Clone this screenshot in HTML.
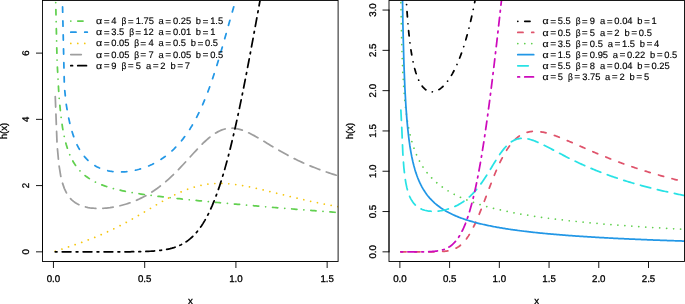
<!DOCTYPE html>
<html><head><meta charset="utf-8"><title>h(x)</title>
<style>html,body{margin:0;padding:0;background:#fff}svg{display:block}text{font-family:"Liberation Sans",sans-serif;fill:#000;text-rendering:geometricPrecision;stroke:#000;stroke-width:0.3px}.lg text{stroke-width:0.16px}.lg text.e{stroke-width:0.08px}</style></head><body>
<svg width="685" height="304" viewBox="0 0 685 304">
<rect width="685" height="304" fill="#fff"/>
<clipPath id="cL"><rect x="42.5" y="0.5" width="295.6" height="261.0"/></clipPath>
<g clip-path="url(#cL)" fill="none" stroke-width="1.742" stroke-linecap="round" stroke-linejoin="round">
<path d="M55.27 -16.61 L57.10 61.80 L58.92 95.31 L60.75 114.79 L62.57 127.83 L64.40 137.29 L66.22 144.53 L68.05 150.28 L69.87 154.98 L71.70 158.91 L73.52 162.24 L75.35 165.11 L77.17 167.61 L79.00 169.82 L80.82 171.77 L82.65 173.52 L84.47 175.10 L86.29 176.53 L88.12 177.83 L89.94 179.02 L91.77 180.11 L93.59 181.12 L95.42 182.05 L97.24 182.91 L99.07 183.72 L100.89 184.47 L102.72 185.18 L104.54 185.84 L106.37 186.46 L108.19 187.05 L110.02 187.60 L111.84 188.13 L113.67 188.63 L115.49 189.10 L117.31 189.55 L119.14 189.98 L120.96 190.40 L122.79 190.79 L124.61 191.17 L126.44 191.53 L128.26 191.88 L130.09 192.22 L131.91 192.55 L133.74 192.86 L135.56 193.17 L137.39 193.46 L139.21 193.75 L141.04 194.03 L142.86 194.30 L144.69 194.57 L146.51 194.82 L148.33 195.08 L150.16 195.32 L151.98 195.56 L153.81 195.80 L155.63 196.03 L157.46 196.26 L159.28 196.48 L161.11 196.70 L162.93 196.92 L164.76 197.13 L166.58 197.34 L168.41 197.55 L170.23 197.75 L172.06 197.95 L173.88 198.15 L175.70 198.35 L177.53 198.55 L179.35 198.74 L181.18 198.93 L183.00 199.12 L184.83 199.31 L186.65 199.50 L188.48 199.68 L190.30 199.87 L192.13 200.05 L193.95 200.23 L195.78 200.41 L197.60 200.59 L199.43 200.77 L201.25 200.94 L203.08 201.12 L204.90 201.30 L206.72 201.47 L208.55 201.64 L210.37 201.82 L212.20 201.99 L214.02 202.16 L215.85 202.33 L217.67 202.50 L219.50 202.67 L221.32 202.84 L223.15 203.01 L224.97 203.18 L226.80 203.34 L228.62 203.51 L230.45 203.67 L232.27 203.84 L234.10 204.00 L235.92 204.17 L237.74 204.33 L239.57 204.49 L241.39 204.66 L243.22 204.82 L245.04 204.98 L246.87 205.14 L248.69 205.30 L250.52 205.46 L252.34 205.62 L254.17 205.78 L255.99 205.94 L257.82 206.10 L259.64 206.25 L261.47 206.41 L263.29 206.57 L265.12 206.72 L266.94 206.88 L268.76 207.03 L270.59 207.19 L272.41 207.34 L274.24 207.50 L276.06 207.65 L277.89 207.80 L279.71 207.95 L281.54 208.10 L283.36 208.26 L285.19 208.41 L287.01 208.56 L288.84 208.70 L290.66 208.85 L292.49 209.00 L294.31 209.15 L296.14 209.30 L297.96 209.44 L299.78 209.59 L301.61 209.73 L303.43 209.88 L305.26 210.02 L307.08 210.17 L308.91 210.31 L310.73 210.45 L312.56 210.59 L314.38 210.74 L316.21 210.88 L318.03 211.02 L319.86 211.16 L321.68 211.30 L323.51 211.43 L325.33 211.57 L327.15 211.71 L328.98 211.85 L330.80 211.98 L332.63 212.12 L334.45 212.25 L336.28 212.39 L338.10 212.52 L339.93 212.66" stroke="#61D04F" stroke-dasharray="0.01 6.97 5.23 6.97"/>
<path d="M62.57 6.99 L64.40 87.15 L66.22 104.37 L68.05 115.24 L69.87 123.54 L71.70 130.44 L73.52 136.15 L75.35 140.94 L77.17 145.04 L79.00 148.56 L80.82 151.61 L82.65 154.27 L84.47 156.61 L86.29 158.67 L88.12 160.49 L89.94 162.10 L91.77 163.53 L93.59 164.80 L95.42 165.92 L97.24 166.92 L99.07 167.80 L100.89 168.58 L102.72 169.25 L104.54 169.84 L106.37 170.35 L108.19 170.78 L110.02 171.14 L111.84 171.43 L113.67 171.66 L115.49 171.83 L117.31 171.94 L119.14 171.99 L120.96 171.99 L122.79 171.94 L124.61 171.84 L126.44 171.68 L128.26 171.48 L130.09 171.24 L131.91 170.94 L133.74 170.60 L135.56 170.20 L137.39 169.77 L139.21 169.28 L141.04 168.74 L142.86 168.16 L144.69 167.52 L146.51 166.84 L148.33 166.10 L150.16 165.31 L151.98 164.46 L153.81 163.55 L155.63 162.59 L157.46 161.56 L159.28 160.47 L161.11 159.31 L162.93 158.08 L164.76 156.78 L166.58 155.41 L168.41 153.95 L170.23 152.41 L172.06 150.78 L173.88 149.06 L175.70 147.24 L177.53 145.31 L179.35 143.28 L181.18 141.13 L183.00 138.86 L184.83 136.46 L186.65 133.93 L188.48 131.25 L190.30 128.42 L192.13 125.43 L193.95 122.28 L195.78 118.94 L197.60 115.43 L199.43 111.71 L201.25 107.80 L203.08 103.68 L204.90 99.34 L206.72 94.78 L208.55 90.00 L210.37 84.99 L212.20 79.76 L214.02 74.31 L215.85 68.65 L217.67 62.80 L219.50 56.76 L221.32 50.57 L223.15 44.24 L224.97 37.82 L226.80 31.35 L228.62 24.85 L230.45 18.38 L232.27 11.99 L234.10 5.72 L235.92 -0.39 L237.74 -6.28 L239.57 -11.91 L241.39 -17.26 L243.22 -22.28 L245.04 -26.95 L246.87 -31.25 L248.69 -35.17 L250.52 -38.71 L252.34 -41.85 L254.17 -44.61 L255.99 -46.99 L257.82 -49.01 L259.64 -50.68 L261.47 -52.02 L263.29 -53.05 L265.12 -53.79 L266.94 -54.25 L268.76 -54.47 L270.59 -54.47 L272.41 -54.25 L274.24 -53.85 L276.06 -53.27 L277.89 -52.54 L279.71 -51.68 L281.54 -50.69 L283.36 -49.59 L285.19 -48.40 L287.01 -47.13 L288.84 -45.78 L290.66 -44.37 L292.49 -42.90 L294.31 -41.39 L296.14 -39.84 L297.96 -38.25 L299.78 -36.64 L301.61 -35.00 L303.43 -33.35 L305.26 -31.68 L307.08 -30.00 L308.91 -28.31 L310.73 -26.62 L312.56 -24.93 L314.38 -23.24 L316.21 -21.56 L318.03 -19.87 L319.86 -18.20 L321.68 -16.53 L323.51 -14.87 L325.33 -13.22 L327.15 -11.58 L328.98 -9.95 L330.80 -8.33 L332.63 -6.73 L334.45 -5.14 L336.28 -3.56 L338.10 -2.00 L339.93 -0.45" stroke="#2297E6" stroke-dasharray="5.23 8.71"/>
<path d="M55.27 251.24 L57.10 250.65 L58.92 250.06 L60.75 249.47 L62.57 248.88 L64.40 248.28 L66.22 247.68 L68.05 247.07 L69.87 246.46 L71.70 245.84 L73.52 245.22 L75.35 244.59 L77.17 243.96 L79.00 243.31 L80.82 242.66 L82.65 242.00 L84.47 241.32 L86.29 240.64 L88.12 239.95 L89.94 239.25 L91.77 238.53 L93.59 237.80 L95.42 237.06 L97.24 236.31 L99.07 235.54 L100.89 234.76 L102.72 233.97 L104.54 233.16 L106.37 232.33 L108.19 231.49 L110.02 230.64 L111.84 229.77 L113.67 228.89 L115.49 227.99 L117.31 227.07 L119.14 226.14 L120.96 225.20 L122.79 224.24 L124.61 223.27 L126.44 222.28 L128.26 221.28 L130.09 220.27 L131.91 219.25 L133.74 218.21 L135.56 217.16 L137.39 216.11 L139.21 215.05 L141.04 213.98 L142.86 212.90 L144.69 211.82 L146.51 210.74 L148.33 209.65 L150.16 208.57 L151.98 207.48 L153.81 206.40 L155.63 205.32 L157.46 204.26 L159.28 203.19 L161.11 202.14 L162.93 201.11 L164.76 200.08 L166.58 199.08 L168.41 198.09 L170.23 197.12 L172.06 196.17 L173.88 195.25 L175.70 194.35 L177.53 193.48 L179.35 192.64 L181.18 191.83 L183.00 191.06 L184.83 190.31 L186.65 189.60 L188.48 188.93 L190.30 188.29 L192.13 187.69 L193.95 187.13 L195.78 186.61 L197.60 186.13 L199.43 185.68 L201.25 185.28 L203.08 184.92 L204.90 184.60 L206.72 184.31 L208.55 184.07 L210.37 183.86 L212.20 183.70 L214.02 183.57 L215.85 183.47 L217.67 183.42 L219.50 183.39 L221.32 183.40 L223.15 183.45 L224.97 183.52 L226.80 183.62 L228.62 183.76 L230.45 183.92 L232.27 184.10 L234.10 184.31 L235.92 184.54 L237.74 184.80 L239.57 185.08 L241.39 185.37 L243.22 185.68 L245.04 186.01 L246.87 186.36 L248.69 186.72 L250.52 187.09 L252.34 187.47 L254.17 187.87 L255.99 188.27 L257.82 188.69 L259.64 189.11 L261.47 189.53 L263.29 189.97 L265.12 190.40 L266.94 190.85 L268.76 191.29 L270.59 191.74 L272.41 192.19 L274.24 192.64 L276.06 193.09 L277.89 193.54 L279.71 193.99 L281.54 194.44 L283.36 194.89 L285.19 195.34 L287.01 195.79 L288.84 196.23 L290.66 196.67 L292.49 197.11 L294.31 197.55 L296.14 197.98 L297.96 198.41 L299.78 198.83 L301.61 199.26 L303.43 199.67 L305.26 200.09 L307.08 200.49 L308.91 200.90 L310.73 201.30 L312.56 201.69 L314.38 202.09 L316.21 202.47 L318.03 202.85 L319.86 203.23 L321.68 203.60 L323.51 203.97 L325.33 204.34 L327.15 204.70 L328.98 205.05 L330.80 205.40 L332.63 205.74 L334.45 206.09 L336.28 206.42 L338.10 206.75 L339.93 207.08" stroke="#F5C710" stroke-dasharray="0.01 6.97"/>
<path d="M55.27 96.63 L57.10 145.01 L58.92 164.87 L60.75 176.09 L62.57 183.41 L64.40 188.60 L66.22 192.47 L68.05 195.47 L69.87 197.86 L71.70 199.79 L73.52 201.38 L75.35 202.70 L77.17 203.81 L79.00 204.73 L80.82 205.51 L82.65 206.16 L84.47 206.71 L86.29 207.16 L88.12 207.53 L89.94 207.82 L91.77 208.05 L93.59 208.22 L95.42 208.33 L97.24 208.40 L99.07 208.41 L100.89 208.38 L102.72 208.31 L104.54 208.20 L106.37 208.04 L108.19 207.85 L110.02 207.63 L111.84 207.36 L113.67 207.06 L115.49 206.73 L117.31 206.36 L119.14 205.95 L120.96 205.51 L122.79 205.03 L124.61 204.51 L126.44 203.96 L128.26 203.37 L130.09 202.75 L131.91 202.08 L133.74 201.38 L135.56 200.63 L137.39 199.84 L139.21 199.02 L141.04 198.14 L142.86 197.23 L144.69 196.27 L146.51 195.26 L148.33 194.20 L150.16 193.10 L151.98 191.95 L153.81 190.75 L155.63 189.49 L157.46 188.19 L159.28 186.83 L161.11 185.43 L162.93 183.97 L164.76 182.45 L166.58 180.89 L168.41 179.28 L170.23 177.61 L172.06 175.90 L173.88 174.14 L175.70 172.34 L177.53 170.49 L179.35 168.61 L181.18 166.69 L183.00 164.75 L184.83 162.77 L186.65 160.78 L188.48 158.78 L190.30 156.77 L192.13 154.76 L193.95 152.77 L195.78 150.79 L197.60 148.84 L199.43 146.92 L201.25 145.06 L203.08 143.24 L204.90 141.50 L206.72 139.83 L208.55 138.24 L210.37 136.75 L212.20 135.36 L214.02 134.08 L215.85 132.91 L217.67 131.87 L219.50 130.95 L221.32 130.17 L223.15 129.51 L224.97 128.99 L226.80 128.60 L228.62 128.34 L230.45 128.22 L232.27 128.21 L234.10 128.33 L235.92 128.56 L237.74 128.90 L239.57 129.34 L241.39 129.88 L243.22 130.50 L245.04 131.20 L246.87 131.98 L248.69 132.81 L250.52 133.71 L252.34 134.65 L254.17 135.63 L255.99 136.65 L257.82 137.70 L259.64 138.77 L261.47 139.85 L263.29 140.95 L265.12 142.06 L266.94 143.17 L268.76 144.28 L270.59 145.39 L272.41 146.49 L274.24 147.58 L276.06 148.66 L277.89 149.73 L279.71 150.79 L281.54 151.83 L283.36 152.86 L285.19 153.86 L287.01 154.85 L288.84 155.83 L290.66 156.78 L292.49 157.72 L294.31 158.64 L296.14 159.53 L297.96 160.41 L299.78 161.28 L301.61 162.12 L303.43 162.95 L305.26 163.76 L307.08 164.55 L308.91 165.33 L310.73 166.09 L312.56 166.83 L314.38 167.56 L316.21 168.27 L318.03 168.97 L319.86 169.65 L321.68 170.32 L323.51 170.98 L325.33 171.62 L327.15 172.25 L328.98 172.87 L330.80 173.48 L332.63 174.08 L334.45 174.66 L336.28 175.23 L338.10 175.80 L339.93 176.35" stroke="#9E9E9E" stroke-dasharray="10.45 6.97"/>
<path d="M55.27 251.83 L57.10 251.83 L58.92 251.83 L60.75 251.83 L62.57 251.83 L64.40 251.83 L66.22 251.83 L68.05 251.83 L69.87 251.83 L71.70 251.83 L73.52 251.83 L75.35 251.83 L77.17 251.83 L79.00 251.83 L80.82 251.83 L82.65 251.83 L84.47 251.83 L86.29 251.83 L88.12 251.83 L89.94 251.83 L91.77 251.83 L93.59 251.83 L95.42 251.83 L97.24 251.83 L99.07 251.83 L100.89 251.83 L102.72 251.83 L104.54 251.83 L106.37 251.83 L108.19 251.83 L110.02 251.83 L111.84 251.82 L113.67 251.82 L115.49 251.82 L117.31 251.82 L119.14 251.81 L120.96 251.81 L122.79 251.80 L124.61 251.79 L126.44 251.78 L128.26 251.77 L130.09 251.76 L131.91 251.74 L133.74 251.72 L135.56 251.70 L137.39 251.67 L139.21 251.63 L141.04 251.59 L142.86 251.54 L144.69 251.49 L146.51 251.42 L148.33 251.34 L150.16 251.25 L151.98 251.14 L153.81 251.02 L155.63 250.87 L157.46 250.71 L159.28 250.51 L161.11 250.29 L162.93 250.04 L164.76 249.75 L166.58 249.43 L168.41 249.05 L170.23 248.63 L172.06 248.15 L173.88 247.61 L175.70 246.99 L177.53 246.31 L179.35 245.53 L181.18 244.67 L183.00 243.70 L184.83 242.63 L186.65 241.43 L188.48 240.10 L190.30 238.63 L192.13 237.01 L193.95 235.22 L195.78 233.26 L197.60 231.10 L199.43 228.74 L201.25 226.17 L203.08 223.37 L204.90 220.34 L206.72 217.05 L208.55 213.50 L210.37 209.68 L212.20 205.57 L214.02 201.18 L215.85 196.48 L217.67 191.49 L219.50 186.18 L221.32 180.56 L223.15 174.62 L224.97 168.37 L226.80 161.81 L228.62 154.93 L230.45 147.76 L232.27 140.28 L234.10 132.52 L235.92 124.49 L237.74 116.19 L239.57 107.64 L241.39 98.86 L243.22 89.86 L245.04 80.67 L246.87 71.31 L248.69 61.78 L250.52 52.12 L252.34 42.35 L254.17 32.48 L255.99 22.55 L257.82 12.57 L259.64 2.57 L261.47 -7.44 L263.29 -17.43 L265.12 -27.38 L266.94 -37.28 L268.76 -47.09 L270.59 -56.81 L272.41 -66.42 L274.24 -75.90 L276.06 -85.23 L277.89 -94.41 L279.71 -103.42 L281.54 -112.25 L283.36 -120.88 L285.19 -129.31 L287.01 -137.54 L288.84 -145.55 L290.66 -153.33 L292.49 -160.89 L294.31 -168.22 L296.14 -175.31 L297.96 -182.17 L299.78 -188.79 L301.61 -195.16 L303.43 -201.30 L305.26 -207.21 L307.08 -212.87 L308.91 -218.30 L310.73 -223.49 L312.56 -228.46 L314.38 -233.20 L316.21 -237.71 L318.03 -242.01 L319.86 -246.08 L321.68 -249.95 L323.51 -253.61 L325.33 -257.07 L327.15 -260.32 L328.98 -263.39 L330.80 -266.27 L332.63 -268.96 L334.45 -271.48 L336.28 -273.83 L338.10 -276.01 L339.93 -278.02" stroke="#000000" stroke-dasharray="1.74 5.23 8.71 5.23"/>
</g>
<g stroke="#000" stroke-width="0.9" fill="none" stroke-linecap="round">
<rect x="42.5" y="0.5" width="295.6" height="261.0"/>
<path d="M53.45 261.5 H327.15"/>
<path d="M53.45 261.5 v6.1"/>
<path d="M144.69 261.5 v6.1"/>
<path d="M235.92 261.5 v6.1"/>
<path d="M327.15 261.5 v6.1"/>
<path d="M42.5 251.83 V53.12"/>
<path d="M42.5 251.83 h-6.1"/>
<path d="M42.5 185.59 h-6.1"/>
<path d="M42.5 119.36 h-6.1"/>
<path d="M42.5 53.12 h-6.1"/>
</g>
<g font-size="9.7" text-anchor="middle">
<text x="53.45" y="282.0">0.0</text>
<text x="144.69" y="282.0">0.5</text>
<text x="235.92" y="282.0">1.0</text>
<text x="327.15" y="282.0">1.5</text>
<text transform="translate(29.00 251.83) rotate(-90)">0</text>
<text transform="translate(29.00 185.59) rotate(-90)">2</text>
<text transform="translate(29.00 119.36) rotate(-90)">4</text>
<text transform="translate(29.00 53.12) rotate(-90)">6</text>
<text x="190.30" y="303.6">x</text>
<text transform="translate(6.60 131.00) rotate(-90)">h(x)</text>
</g>
<clipPath id="cR"><rect x="389.0" y="0.5" width="295.5" height="261.0"/></clipPath>
<g clip-path="url(#cR)" fill="none" stroke-width="1.742" stroke-linecap="round" stroke-linejoin="round">
<path d="M401.87 -187.07 L402.86 -110.14 L403.86 -61.80 L404.85 -30.32 L405.85 -7.80 L406.84 9.15 L407.84 22.41 L408.83 33.08 L409.82 41.83 L410.82 49.14 L411.81 55.31 L412.81 60.58 L413.80 65.11 L414.80 69.04 L415.79 72.45 L416.79 75.42 L417.78 78.03 L418.78 80.30 L419.77 82.29 L420.76 84.03 L421.76 85.54 L422.75 86.85 L423.75 87.97 L424.74 88.93 L425.74 89.73 L426.73 90.39 L427.73 90.92 L428.72 91.33 L429.71 91.61 L430.71 91.79 L431.70 91.87 L432.70 91.84 L433.69 91.72 L434.69 91.51 L435.68 91.21 L436.68 90.82 L437.67 90.35 L438.67 89.79 L439.66 89.15 L440.65 88.43 L441.65 87.63 L442.64 86.75 L443.64 85.79 L444.63 84.75 L445.63 83.62 L446.62 82.41 L447.62 81.12 L448.61 79.75 L449.61 78.28 L450.60 76.73 L451.59 75.09 L452.59 73.36 L453.58 71.53 L454.58 69.60 L455.57 67.57 L456.57 65.44 L457.56 63.19 L458.56 60.84 L459.55 58.36 L460.54 55.77 L461.54 53.05 L462.53 50.19 L463.53 47.20 L464.52 44.07 L465.52 40.79 L466.51 37.35 L467.51 33.74 L468.50 29.97 L469.50 26.02 L470.49 21.89 L471.48 17.56 L472.48 13.03 L473.47 8.30 L474.47 3.35 L475.46 -1.83 L476.46 -7.23 L477.45 -12.87 L478.45 -18.75 L479.44 -24.87 L480.43 -31.24 L481.43 -37.86 L482.42 -44.72 L483.42 -51.82 L484.41 -59.16 L485.41 -66.73 L486.40 -74.52 L487.40 -82.50 L488.39 -90.66 L489.38 -98.98 L490.38 -107.44 L491.37 -115.99 L492.37 -124.61 L493.36 -133.27 L494.36 -141.93 L495.35 -150.54 L496.35 -159.07 L497.34 -167.48 L498.34 -175.72 L499.33 -183.77 L500.32 -191.58 L501.32 -199.12 L502.31 -206.35 L503.31 -213.25 L504.30 -219.80 L505.30 -225.98 L506.29 -231.76 L507.29 -237.14 L508.28 -242.12 L509.27 -246.67 L510.27 -250.82 L511.26 -254.55 L512.26 -257.87 L513.25 -260.80 L514.25 -263.34 L515.24 -265.51 L516.24 -267.32 L517.23 -268.79 L518.23 -269.92 L519.22 -270.75 L520.21 -271.28 L521.21 -271.54 L522.20 -271.53 L523.20 -271.28 L524.19 -270.81 L525.19 -270.13 L526.18 -269.25 L527.18 -268.19 L528.17 -266.96 L529.16 -265.59 L530.16 -264.08 L531.15 -262.44 L532.15 -260.68 L533.14 -258.82 L534.14 -256.87 L535.13 -254.83 L536.13 -252.71 L537.12 -250.53 L538.12 -248.29 L539.11 -245.99 L540.10 -243.65 L541.10 -241.26 L542.09 -238.84 L543.09 -236.39 L544.08 -233.92 L545.08 -231.42 L546.07 -228.91 L547.07 -226.38 L548.06 -223.84 L549.06 -221.30 L550.05 -218.75 L551.04 -216.20 L552.04 -213.65 L553.03 -211.10 L554.03 -208.55 L555.02 -206.02 L556.02 -203.49 L557.01 -200.97 L558.01 -198.46 L559.00 -195.96 L559.99 -193.47 L560.99 -191.00 L561.98 -188.54 L562.98 -186.10 L563.97 -183.67 L564.97 -181.26 L565.96 -178.86 L566.96 -176.49 L567.95 -174.13 L568.94 -171.79 L569.94 -169.46 L570.93 -167.16 L571.93 -164.87 L572.92 -162.60 L573.92 -160.35 L574.91 -158.13 L575.91 -155.92 L576.90 -153.72 L577.90 -151.55 L578.89 -149.40 L579.88 -147.26 L580.88 -145.15 L581.87 -143.05 L582.87 -140.98 L583.86 -138.92 L584.86 -136.88 L585.85 -134.86 L586.85 -132.86 L587.84 -130.87 L588.84 -128.91 L589.83 -126.96 L590.82 -125.03 L591.82 -123.12 L592.81 -121.22 L593.81 -119.35 L594.80 -117.49 L595.80 -115.65 L596.79 -113.82 L597.79 -112.01 L598.78 -110.22 L599.77 -108.45 L600.77 -106.69 L601.76 -104.95 L602.76 -103.22 L603.75 -101.51 L604.75 -99.81 L605.74 -98.13 L606.74 -96.47 L607.73 -94.82 L608.73 -93.19 L609.72 -91.57 L610.71 -89.96 L611.71 -88.37 L612.70 -86.79 L613.70 -85.23 L614.69 -83.68 L615.69 -82.15 L616.68 -80.63 L617.68 -79.12 L618.67 -77.62 L619.66 -76.14 L620.66 -74.67 L621.65 -73.22 L622.65 -71.77 L623.64 -70.34 L624.64 -68.93 L625.63 -67.52 L626.63 -66.13 L627.62 -64.74 L628.62 -63.37 L629.61 -62.01 L630.60 -60.67 L631.60 -59.33 L632.59 -58.01 L633.59 -56.69 L634.58 -55.39 L635.58 -54.10 L636.57 -52.82 L637.57 -51.55 L638.56 -50.29 L639.55 -49.04 L640.55 -47.80 L641.54 -46.57 L642.54 -45.35 L643.53 -44.14 L644.53 -42.94 L645.52 -41.74 L646.52 -40.56 L647.51 -39.39 L648.50 -38.23 L649.50 -37.08 L650.49 -35.93 L651.49 -34.80 L652.48 -33.67 L653.48 -32.55 L654.47 -31.44 L655.47 -30.34 L656.46 -29.25 L657.46 -28.17 L658.45 -27.09 L659.44 -26.02 L660.44 -24.97 L661.43 -23.91 L662.43 -22.87 L663.42 -21.84 L664.42 -20.81 L665.41 -19.79 L666.41 -18.78 L667.40 -17.77 L668.39 -16.77 L669.39 -15.78 L670.38 -14.80 L671.38 -13.82 L672.37 -12.86 L673.37 -11.89 L674.36 -10.94 L675.36 -9.99 L676.35 -9.05 L677.35 -8.12 L678.34 -7.19 L679.33 -6.27 L680.33 -5.35 L681.32 -4.44 L682.32 -3.54 L683.31 -2.65 L684.31 -1.76 L685.30 -0.87 L686.30 0.00" stroke="#000000" stroke-dasharray="0.01 6.97 5.23 6.97"/>
<path d="M400.87 251.83 L401.87 251.83 L402.86 251.83 L403.86 251.83 L404.85 251.83 L405.85 251.83 L406.84 251.83 L407.84 251.83 L408.83 251.83 L409.82 251.83 L410.82 251.83 L411.81 251.83 L412.81 251.83 L413.80 251.83 L414.80 251.83 L415.79 251.83 L416.79 251.83 L417.78 251.83 L418.78 251.83 L419.77 251.83 L420.76 251.83 L421.76 251.83 L422.75 251.83 L423.75 251.83 L424.74 251.83 L425.74 251.83 L426.73 251.82 L427.73 251.82 L428.72 251.82 L429.71 251.81 L430.71 251.81 L431.70 251.80 L432.70 251.79 L433.69 251.78 L434.69 251.77 L435.68 251.75 L436.68 251.73 L437.67 251.71 L438.67 251.67 L439.66 251.64 L440.65 251.59 L441.65 251.53 L442.64 251.46 L443.64 251.38 L444.63 251.29 L445.63 251.17 L446.62 251.04 L447.62 250.88 L448.61 250.70 L449.61 250.49 L450.60 250.25 L451.59 249.97 L452.59 249.66 L453.58 249.30 L454.58 248.89 L455.57 248.43 L456.57 247.92 L457.56 247.34 L458.56 246.70 L459.55 245.99 L460.54 245.21 L461.54 244.35 L462.53 243.41 L463.53 242.38 L464.52 241.27 L465.52 240.06 L466.51 238.77 L467.51 237.38 L468.50 235.89 L469.50 234.31 L470.49 232.63 L471.48 230.86 L472.48 229.00 L473.47 227.04 L474.47 225.00 L475.46 222.88 L476.46 220.68 L477.45 218.40 L478.45 216.06 L479.44 213.65 L480.43 211.19 L481.43 208.69 L482.42 206.14 L483.42 203.56 L484.41 200.95 L485.41 198.33 L486.40 195.70 L487.40 193.06 L488.39 190.44 L489.38 187.82 L490.38 185.23 L491.37 182.66 L492.37 180.12 L493.36 177.63 L494.36 175.18 L495.35 172.78 L496.35 170.43 L497.34 168.15 L498.34 165.92 L499.33 163.77 L500.32 161.68 L501.32 159.66 L502.31 157.72 L503.31 155.85 L504.30 154.05 L505.30 152.34 L506.29 150.70 L507.29 149.14 L508.28 147.65 L509.27 146.24 L510.27 144.91 L511.26 143.65 L512.26 142.46 L513.25 141.35 L514.25 140.30 L515.24 139.33 L516.24 138.42 L517.23 137.58 L518.23 136.80 L519.22 136.08 L520.21 135.42 L521.21 134.82 L522.20 134.27 L523.20 133.78 L524.19 133.34 L525.19 132.95 L526.18 132.60 L527.18 132.30 L528.17 132.05 L529.16 131.83 L530.16 131.66 L531.15 131.52 L532.15 131.41 L533.14 131.35 L534.14 131.31 L535.13 131.31 L536.13 131.33 L537.12 131.38 L538.12 131.46 L539.11 131.57 L540.10 131.69 L541.10 131.84 L542.09 132.02 L543.09 132.21 L544.08 132.42 L545.08 132.64 L546.07 132.89 L547.07 133.15 L548.06 133.42 L549.06 133.71 L550.05 134.01 L551.04 134.32 L552.04 134.65 L553.03 134.98 L554.03 135.32 L555.02 135.68 L556.02 136.04 L557.01 136.41 L558.01 136.79 L559.00 137.17 L559.99 137.56 L560.99 137.96 L561.98 138.36 L562.98 138.76 L563.97 139.17 L564.97 139.59 L565.96 140.00 L566.96 140.43 L567.95 140.85 L568.94 141.27 L569.94 141.70 L570.93 142.13 L571.93 142.57 L572.92 143.00 L573.92 143.43 L574.91 143.87 L575.91 144.30 L576.90 144.74 L577.90 145.18 L578.89 145.61 L579.88 146.05 L580.88 146.49 L581.87 146.92 L582.87 147.36 L583.86 147.80 L584.86 148.23 L585.85 148.66 L586.85 149.10 L587.84 149.53 L588.84 149.96 L589.83 150.39 L590.82 150.81 L591.82 151.24 L592.81 151.66 L593.81 152.09 L594.80 152.51 L595.80 152.93 L596.79 153.35 L597.79 153.76 L598.78 154.17 L599.77 154.59 L600.77 155.00 L601.76 155.40 L602.76 155.81 L603.75 156.21 L604.75 156.62 L605.74 157.01 L606.74 157.41 L607.73 157.81 L608.73 158.20 L609.72 158.59 L610.71 158.98 L611.71 159.37 L612.70 159.75 L613.70 160.13 L614.69 160.51 L615.69 160.89 L616.68 161.26 L617.68 161.63 L618.67 162.00 L619.66 162.37 L620.66 162.74 L621.65 163.10 L622.65 163.46 L623.64 163.82 L624.64 164.18 L625.63 164.53 L626.63 164.88 L627.62 165.23 L628.62 165.58 L629.61 165.92 L630.60 166.27 L631.60 166.61 L632.59 166.94 L633.59 167.28 L634.58 167.61 L635.58 167.95 L636.57 168.28 L637.57 168.60 L638.56 168.93 L639.55 169.25 L640.55 169.57 L641.54 169.89 L642.54 170.21 L643.53 170.52 L644.53 170.83 L645.52 171.14 L646.52 171.45 L647.51 171.76 L648.50 172.06 L649.50 172.36 L650.49 172.66 L651.49 172.96 L652.48 173.25 L653.48 173.55 L654.47 173.84 L655.47 174.13 L656.46 174.42 L657.46 174.70 L658.45 174.99 L659.44 175.27 L660.44 175.55 L661.43 175.83 L662.43 176.11 L663.42 176.38 L664.42 176.65 L665.41 176.92 L666.41 177.19 L667.40 177.46 L668.39 177.73 L669.39 177.99 L670.38 178.25 L671.38 178.51 L672.37 178.77 L673.37 179.03 L674.36 179.29 L675.36 179.54 L676.35 179.79 L677.35 180.04 L678.34 180.29 L679.33 180.54 L680.33 180.78 L681.32 181.03 L682.32 181.27 L683.31 181.51 L684.31 181.75 L685.30 181.99 L686.30 182.23" stroke="#DF536B" stroke-dasharray="5.23 8.71"/>
<path d="M400.87 2.72 L401.87 49.28 L402.86 73.40 L403.86 89.26 L404.85 100.90 L405.85 109.99 L406.84 117.41 L407.84 123.63 L408.83 128.96 L409.82 133.62 L410.82 137.73 L411.81 141.41 L412.81 144.73 L413.80 147.75 L414.80 150.52 L415.79 153.07 L416.79 155.42 L417.78 157.61 L418.78 159.66 L419.77 161.57 L420.76 163.37 L421.76 165.07 L422.75 166.67 L423.75 168.18 L424.74 169.62 L425.74 170.99 L426.73 172.29 L427.73 173.54 L428.72 174.73 L429.71 175.86 L430.71 176.96 L431.70 178.00 L432.70 179.01 L433.69 179.98 L434.69 180.91 L435.68 181.81 L436.68 182.68 L437.67 183.52 L438.67 184.33 L439.66 185.11 L440.65 185.87 L441.65 186.61 L442.64 187.32 L443.64 188.01 L444.63 188.69 L445.63 189.34 L446.62 189.98 L447.62 190.59 L448.61 191.20 L449.61 191.78 L450.60 192.35 L451.59 192.91 L452.59 193.45 L453.58 193.98 L454.58 194.50 L455.57 195.00 L456.57 195.49 L457.56 195.98 L458.56 196.45 L459.55 196.91 L460.54 197.36 L461.54 197.80 L462.53 198.23 L463.53 198.65 L464.52 199.06 L465.52 199.47 L466.51 199.87 L467.51 200.26 L468.50 200.64 L469.50 201.01 L470.49 201.38 L471.48 201.74 L472.48 202.10 L473.47 202.44 L474.47 202.79 L475.46 203.12 L476.46 203.45 L477.45 203.77 L478.45 204.09 L479.44 204.41 L480.43 204.71 L481.43 205.02 L482.42 205.31 L483.42 205.61 L484.41 205.89 L485.41 206.18 L486.40 206.46 L487.40 206.73 L488.39 207.00 L489.38 207.27 L490.38 207.53 L491.37 207.79 L492.37 208.05 L493.36 208.30 L494.36 208.55 L495.35 208.79 L496.35 209.03 L497.34 209.27 L498.34 209.50 L499.33 209.73 L500.32 209.96 L501.32 210.19 L502.31 210.41 L503.31 210.63 L504.30 210.84 L505.30 211.05 L506.29 211.26 L507.29 211.47 L508.28 211.68 L509.27 211.88 L510.27 212.08 L511.26 212.28 L512.26 212.47 L513.25 212.66 L514.25 212.85 L515.24 213.04 L516.24 213.23 L517.23 213.41 L518.23 213.59 L519.22 213.77 L520.21 213.95 L521.21 214.13 L522.20 214.30 L523.20 214.47 L524.19 214.64 L525.19 214.81 L526.18 214.97 L527.18 215.14 L528.17 215.30 L529.16 215.46 L530.16 215.62 L531.15 215.77 L532.15 215.93 L533.14 216.08 L534.14 216.24 L535.13 216.39 L536.13 216.54 L537.12 216.68 L538.12 216.83 L539.11 216.97 L540.10 217.12 L541.10 217.26 L542.09 217.40 L543.09 217.54 L544.08 217.67 L545.08 217.81 L546.07 217.95 L547.07 218.08 L548.06 218.21 L549.06 218.34 L550.05 218.47 L551.04 218.60 L552.04 218.73 L553.03 218.85 L554.03 218.98 L555.02 219.10 L556.02 219.23 L557.01 219.35 L558.01 219.47 L559.00 219.59 L559.99 219.71 L560.99 219.82 L561.98 219.94 L562.98 220.06 L563.97 220.17 L564.97 220.28 L565.96 220.40 L566.96 220.51 L567.95 220.62 L568.94 220.73 L569.94 220.84 L570.93 220.94 L571.93 221.05 L572.92 221.16 L573.92 221.26 L574.91 221.37 L575.91 221.47 L576.90 221.57 L577.90 221.67 L578.89 221.77 L579.88 221.87 L580.88 221.97 L581.87 222.07 L582.87 222.17 L583.86 222.27 L584.86 222.36 L585.85 222.46 L586.85 222.55 L587.84 222.65 L588.84 222.74 L589.83 222.83 L590.82 222.93 L591.82 223.02 L592.81 223.11 L593.81 223.20 L594.80 223.29 L595.80 223.38 L596.79 223.46 L597.79 223.55 L598.78 223.64 L599.77 223.72 L600.77 223.81 L601.76 223.89 L602.76 223.98 L603.75 224.06 L604.75 224.15 L605.74 224.23 L606.74 224.31 L607.73 224.39 L608.73 224.47 L609.72 224.55 L610.71 224.63 L611.71 224.71 L612.70 224.79 L613.70 224.87 L614.69 224.94 L615.69 225.02 L616.68 225.10 L617.68 225.17 L618.67 225.25 L619.66 225.32 L620.66 225.40 L621.65 225.47 L622.65 225.55 L623.64 225.62 L624.64 225.69 L625.63 225.76 L626.63 225.84 L627.62 225.91 L628.62 225.98 L629.61 226.05 L630.60 226.12 L631.60 226.19 L632.59 226.26 L633.59 226.32 L634.58 226.39 L635.58 226.46 L636.57 226.53 L637.57 226.59 L638.56 226.66 L639.55 226.73 L640.55 226.79 L641.54 226.86 L642.54 226.92 L643.53 226.99 L644.53 227.05 L645.52 227.11 L646.52 227.18 L647.51 227.24 L648.50 227.30 L649.50 227.36 L650.49 227.43 L651.49 227.49 L652.48 227.55 L653.48 227.61 L654.47 227.67 L655.47 227.73 L656.46 227.79 L657.46 227.85 L658.45 227.91 L659.44 227.97 L660.44 228.02 L661.43 228.08 L662.43 228.14 L663.42 228.20 L664.42 228.25 L665.41 228.31 L666.41 228.37 L667.40 228.42 L668.39 228.48 L669.39 228.53 L670.38 228.59 L671.38 228.64 L672.37 228.70 L673.37 228.75 L674.36 228.81 L675.36 228.86 L676.35 228.91 L677.35 228.97 L678.34 229.02 L679.33 229.07 L680.33 229.12 L681.32 229.18 L682.32 229.23 L683.31 229.28 L684.31 229.33 L685.30 229.38 L686.30 229.43" stroke="#61D04F" stroke-dasharray="0.01 6.97"/>
<path d="M400.87 -225.24 L401.87 -47.06 L402.86 23.01 L403.86 61.96 L404.85 87.28 L405.85 105.29 L406.84 118.88 L407.84 129.58 L408.83 138.27 L409.82 145.49 L410.82 151.61 L411.81 156.88 L412.81 161.48 L413.80 165.53 L414.80 169.14 L415.79 172.38 L416.79 175.30 L417.78 177.96 L418.78 180.40 L419.77 182.63 L420.76 184.69 L421.76 186.60 L422.75 188.38 L423.75 190.04 L424.74 191.59 L425.74 193.05 L426.73 194.42 L427.73 195.71 L428.72 196.93 L429.71 198.09 L430.71 199.18 L431.70 200.22 L432.70 201.22 L433.69 202.16 L434.69 203.07 L435.68 203.93 L436.68 204.76 L437.67 205.55 L438.67 206.31 L439.66 207.04 L440.65 207.75 L441.65 208.42 L442.64 209.08 L443.64 209.70 L444.63 210.31 L445.63 210.90 L446.62 211.47 L447.62 212.01 L448.61 212.55 L449.61 213.06 L450.60 213.56 L451.59 214.04 L452.59 214.51 L453.58 214.97 L454.58 215.41 L455.57 215.84 L456.57 216.26 L457.56 216.67 L458.56 217.07 L459.55 217.45 L460.54 217.83 L461.54 218.20 L462.53 218.55 L463.53 218.90 L464.52 219.25 L465.52 219.58 L466.51 219.90 L467.51 220.22 L468.50 220.53 L469.50 220.84 L470.49 221.13 L471.48 221.42 L472.48 221.71 L473.47 221.99 L474.47 222.26 L475.46 222.53 L476.46 222.79 L477.45 223.05 L478.45 223.30 L479.44 223.54 L480.43 223.79 L481.43 224.02 L482.42 224.26 L483.42 224.49 L484.41 224.71 L485.41 224.93 L486.40 225.15 L487.40 225.36 L488.39 225.57 L489.38 225.77 L490.38 225.97 L491.37 226.17 L492.37 226.37 L493.36 226.56 L494.36 226.75 L495.35 226.93 L496.35 227.11 L497.34 227.29 L498.34 227.47 L499.33 227.64 L500.32 227.81 L501.32 227.98 L502.31 228.15 L503.31 228.31 L504.30 228.47 L505.30 228.63 L506.29 228.79 L507.29 228.94 L508.28 229.09 L509.27 229.24 L510.27 229.39 L511.26 229.54 L512.26 229.68 L513.25 229.82 L514.25 229.96 L515.24 230.10 L516.24 230.23 L517.23 230.37 L518.23 230.50 L519.22 230.63 L520.21 230.76 L521.21 230.88 L522.20 231.01 L523.20 231.13 L524.19 231.25 L525.19 231.38 L526.18 231.49 L527.18 231.61 L528.17 231.73 L529.16 231.84 L530.16 231.96 L531.15 232.07 L532.15 232.18 L533.14 232.29 L534.14 232.40 L535.13 232.50 L536.13 232.61 L537.12 232.71 L538.12 232.81 L539.11 232.92 L540.10 233.02 L541.10 233.12 L542.09 233.22 L543.09 233.31 L544.08 233.41 L545.08 233.50 L546.07 233.60 L547.07 233.69 L548.06 233.78 L549.06 233.87 L550.05 233.96 L551.04 234.05 L552.04 234.14 L553.03 234.23 L554.03 234.32 L555.02 234.40 L556.02 234.49 L557.01 234.57 L558.01 234.65 L559.00 234.73 L559.99 234.82 L560.99 234.90 L561.98 234.98 L562.98 235.05 L563.97 235.13 L564.97 235.21 L565.96 235.29 L566.96 235.36 L567.95 235.44 L568.94 235.51 L569.94 235.59 L570.93 235.66 L571.93 235.73 L572.92 235.80 L573.92 235.87 L574.91 235.94 L575.91 236.01 L576.90 236.08 L577.90 236.15 L578.89 236.22 L579.88 236.29 L580.88 236.35 L581.87 236.42 L582.87 236.48 L583.86 236.55 L584.86 236.61 L585.85 236.68 L586.85 236.74 L587.84 236.80 L588.84 236.86 L589.83 236.93 L590.82 236.99 L591.82 237.05 L592.81 237.11 L593.81 237.17 L594.80 237.23 L595.80 237.28 L596.79 237.34 L597.79 237.40 L598.78 237.46 L599.77 237.51 L600.77 237.57 L601.76 237.63 L602.76 237.68 L603.75 237.73 L604.75 237.79 L605.74 237.84 L606.74 237.90 L607.73 237.95 L608.73 238.00 L609.72 238.05 L610.71 238.11 L611.71 238.16 L612.70 238.21 L613.70 238.26 L614.69 238.31 L615.69 238.36 L616.68 238.41 L617.68 238.46 L618.67 238.51 L619.66 238.55 L620.66 238.60 L621.65 238.65 L622.65 238.70 L623.64 238.74 L624.64 238.79 L625.63 238.84 L626.63 238.88 L627.62 238.93 L628.62 238.97 L629.61 239.02 L630.60 239.06 L631.60 239.11 L632.59 239.15 L633.59 239.19 L634.58 239.24 L635.58 239.28 L636.57 239.32 L637.57 239.37 L638.56 239.41 L639.55 239.45 L640.55 239.49 L641.54 239.53 L642.54 239.57 L643.53 239.61 L644.53 239.65 L645.52 239.69 L646.52 239.73 L647.51 239.77 L648.50 239.81 L649.50 239.85 L650.49 239.89 L651.49 239.93 L652.48 239.97 L653.48 240.01 L654.47 240.04 L655.47 240.08 L656.46 240.12 L657.46 240.16 L658.45 240.19 L659.44 240.23 L660.44 240.27 L661.43 240.30 L662.43 240.34 L663.42 240.37 L664.42 240.41 L665.41 240.44 L666.41 240.48 L667.40 240.51 L668.39 240.55 L669.39 240.58 L670.38 240.62 L671.38 240.65 L672.37 240.68 L673.37 240.72 L674.36 240.75 L675.36 240.78 L676.35 240.82 L677.35 240.85 L678.34 240.88 L679.33 240.91 L680.33 240.95 L681.32 240.98 L682.32 241.01 L683.31 241.04 L684.31 241.07 L685.30 241.10 L686.30 241.13" stroke="#2297E6"/>
<path d="M400.87 110.01 L401.87 129.77 L402.86 153.82 L403.86 167.53 L404.85 176.49 L405.85 182.85 L406.84 187.63 L407.84 191.36 L408.83 194.36 L409.82 196.82 L410.82 198.87 L411.81 200.61 L412.81 202.09 L413.80 203.37 L414.80 204.48 L415.79 205.45 L416.79 206.29 L417.78 207.04 L418.78 207.69 L419.77 208.26 L420.76 208.77 L421.76 209.21 L422.75 209.60 L423.75 209.94 L424.74 210.24 L425.74 210.49 L426.73 210.70 L427.73 210.88 L428.72 211.03 L429.71 211.14 L430.71 211.23 L431.70 211.29 L432.70 211.32 L433.69 211.33 L434.69 211.32 L435.68 211.28 L436.68 211.22 L437.67 211.13 L438.67 211.03 L439.66 210.91 L440.65 210.76 L441.65 210.60 L442.64 210.41 L443.64 210.21 L444.63 209.98 L445.63 209.74 L446.62 209.47 L447.62 209.19 L448.61 208.88 L449.61 208.55 L450.60 208.21 L451.59 207.84 L452.59 207.45 L453.58 207.03 L454.58 206.60 L455.57 206.14 L456.57 205.66 L457.56 205.15 L458.56 204.61 L459.55 204.05 L460.54 203.47 L461.54 202.85 L462.53 202.21 L463.53 201.53 L464.52 200.83 L465.52 200.09 L466.51 199.32 L467.51 198.52 L468.50 197.68 L469.50 196.80 L470.49 195.89 L471.48 194.93 L472.48 193.94 L473.47 192.91 L474.47 191.83 L475.46 190.72 L476.46 189.56 L477.45 188.36 L478.45 187.11 L479.44 185.83 L480.43 184.50 L481.43 183.13 L482.42 181.72 L483.42 180.27 L484.41 178.79 L485.41 177.27 L486.40 175.72 L487.40 174.15 L488.39 172.55 L489.38 170.94 L490.38 169.31 L491.37 167.68 L492.37 166.04 L493.36 164.41 L494.36 162.78 L495.35 161.17 L496.35 159.59 L497.34 158.03 L498.34 156.51 L499.33 155.03 L500.32 153.59 L501.32 152.21 L502.31 150.88 L503.31 149.61 L504.30 148.40 L505.30 147.26 L506.29 146.19 L507.29 145.18 L508.28 144.25 L509.27 143.39 L510.27 142.60 L511.26 141.88 L512.26 141.24 L513.25 140.66 L514.25 140.15 L515.24 139.71 L516.24 139.34 L517.23 139.03 L518.23 138.77 L519.22 138.58 L520.21 138.44 L521.21 138.35 L522.20 138.31 L523.20 138.32 L524.19 138.38 L525.19 138.47 L526.18 138.61 L527.18 138.78 L528.17 138.98 L529.16 139.22 L530.16 139.48 L531.15 139.78 L532.15 140.10 L533.14 140.44 L534.14 140.80 L535.13 141.18 L536.13 141.58 L537.12 142.00 L538.12 142.43 L539.11 142.88 L540.10 143.33 L541.10 143.80 L542.09 144.28 L543.09 144.76 L544.08 145.25 L545.08 145.75 L546.07 146.26 L547.07 146.77 L548.06 147.28 L549.06 147.80 L550.05 148.32 L551.04 148.84 L552.04 149.36 L553.03 149.89 L554.03 150.42 L555.02 150.94 L556.02 151.47 L557.01 151.99 L558.01 152.52 L559.00 153.04 L559.99 153.56 L560.99 154.08 L561.98 154.60 L562.98 155.12 L563.97 155.63 L564.97 156.14 L565.96 156.65 L566.96 157.16 L567.95 157.66 L568.94 158.16 L569.94 158.65 L570.93 159.15 L571.93 159.64 L572.92 160.12 L573.92 160.61 L574.91 161.09 L575.91 161.56 L576.90 162.04 L577.90 162.51 L578.89 162.97 L579.88 163.43 L580.88 163.89 L581.87 164.34 L582.87 164.80 L583.86 165.24 L584.86 165.69 L585.85 166.13 L586.85 166.56 L587.84 166.99 L588.84 167.42 L589.83 167.85 L590.82 168.27 L591.82 168.68 L592.81 169.10 L593.81 169.51 L594.80 169.92 L595.80 170.32 L596.79 170.72 L597.79 171.11 L598.78 171.51 L599.77 171.90 L600.77 172.28 L601.76 172.66 L602.76 173.04 L603.75 173.42 L604.75 173.79 L605.74 174.16 L606.74 174.53 L607.73 174.89 L608.73 175.25 L609.72 175.61 L610.71 175.96 L611.71 176.31 L612.70 176.66 L613.70 177.00 L614.69 177.34 L615.69 177.68 L616.68 178.02 L617.68 178.35 L618.67 178.68 L619.66 179.01 L620.66 179.33 L621.65 179.65 L622.65 179.97 L623.64 180.29 L624.64 180.60 L625.63 180.91 L626.63 181.22 L627.62 181.52 L628.62 181.83 L629.61 182.13 L630.60 182.43 L631.60 182.72 L632.59 183.01 L633.59 183.31 L634.58 183.59 L635.58 183.88 L636.57 184.16 L637.57 184.44 L638.56 184.72 L639.55 185.00 L640.55 185.27 L641.54 185.55 L642.54 185.82 L643.53 186.09 L644.53 186.35 L645.52 186.62 L646.52 186.88 L647.51 187.14 L648.50 187.39 L649.50 187.65 L650.49 187.90 L651.49 188.15 L652.48 188.40 L653.48 188.65 L654.47 188.90 L655.47 189.14 L656.46 189.38 L657.46 189.62 L658.45 189.86 L659.44 190.10 L660.44 190.33 L661.43 190.57 L662.43 190.80 L663.42 191.03 L664.42 191.26 L665.41 191.48 L666.41 191.71 L667.40 191.93 L668.39 192.15 L669.39 192.37 L670.38 192.59 L671.38 192.81 L672.37 193.02 L673.37 193.23 L674.36 193.45 L675.36 193.66 L676.35 193.87 L677.35 194.07 L678.34 194.28 L679.33 194.48 L680.33 194.69 L681.32 194.89 L682.32 195.09 L683.31 195.29 L684.31 195.48 L685.30 195.68 L686.30 195.87" stroke="#28E2E5" stroke-dasharray="10.45 6.97"/>
<path d="M400.87 251.83 L401.87 251.83 L402.86 251.83 L403.86 251.83 L404.85 251.83 L405.85 251.83 L406.84 251.83 L407.84 251.83 L408.83 251.83 L409.82 251.83 L410.82 251.83 L411.81 251.83 L412.81 251.83 L413.80 251.83 L414.80 251.83 L415.79 251.83 L416.79 251.83 L417.78 251.82 L418.78 251.82 L419.77 251.82 L420.76 251.81 L421.76 251.80 L422.75 251.80 L423.75 251.78 L424.74 251.77 L425.74 251.75 L426.73 251.73 L427.73 251.71 L428.72 251.67 L429.71 251.64 L430.71 251.59 L431.70 251.54 L432.70 251.47 L433.69 251.39 L434.69 251.30 L435.68 251.20 L436.68 251.08 L437.67 250.94 L438.67 250.77 L439.66 250.59 L440.65 250.37 L441.65 250.13 L442.64 249.85 L443.64 249.54 L444.63 249.19 L445.63 248.79 L446.62 248.34 L447.62 247.85 L448.61 247.29 L449.61 246.67 L450.60 245.98 L451.59 245.23 L452.59 244.39 L453.58 243.46 L454.58 242.45 L455.57 241.34 L456.57 240.12 L457.56 238.80 L458.56 237.35 L459.55 235.79 L460.54 234.09 L461.54 232.25 L462.53 230.26 L463.53 228.13 L464.52 225.83 L465.52 223.37 L466.51 220.73 L467.51 217.91 L468.50 214.91 L469.50 211.71 L470.49 208.32 L471.48 204.72 L472.48 200.91 L473.47 196.89 L474.47 192.66 L475.46 188.20 L476.46 183.52 L477.45 178.62 L478.45 173.49 L479.44 168.13 L480.43 162.55 L481.43 156.75 L482.42 150.72 L483.42 144.47 L484.41 138.00 L485.41 131.32 L486.40 124.44 L487.40 117.35 L488.39 110.07 L489.38 102.60 L490.38 94.95 L491.37 87.13 L492.37 79.14 L493.36 71.01 L494.36 62.73 L495.35 54.32 L496.35 45.79 L497.34 37.15 L498.34 28.42 L499.33 19.60 L500.32 10.70 L501.32 1.75 L502.31 -7.25 L503.31 -16.29 L504.30 -25.36 L505.30 -34.43 L506.29 -43.51 L507.29 -52.58 L508.28 -61.62 L509.27 -70.63 L510.27 -79.60 L511.26 -88.51 L512.26 -97.36 L513.25 -106.13 L514.25 -114.82 L515.24 -123.42 L516.24 -131.92 L517.23 -140.31 L518.23 -148.58 L519.22 -156.73 L520.21 -164.76 L521.21 -172.65 L522.20 -180.40 L523.20 -188.01 L524.19 -195.47 L525.19 -202.77 L526.18 -209.93 L527.18 -216.92 L528.17 -223.75 L529.16 -230.41 L530.16 -236.91 L531.15 -243.24 L532.15 -249.41 L533.14 -255.40 L534.14 -261.22 L535.13 -266.88 L536.13 -272.36 L537.12 -277.68 L538.12 -282.83 L539.11 -287.81 L540.10 -292.62 L541.10 -297.27 L542.09 -301.75 L543.09 -306.07 L544.08 -310.23 L545.08 -314.23 L546.07 -318.08 L547.07 -321.77 L548.06 -325.31 L549.06 -328.70 L550.05 -331.94 L551.04 -335.04 L552.04 -338.00 L553.03 -340.82 L554.03 -343.50 L555.02 -346.05 L556.02 -348.47 L557.01 -350.76 L558.01 -352.92 L559.00 -354.97 L559.99 -356.89 L560.99 -358.70 L561.98 -360.39 L562.98 -361.97 L563.97 -363.45 L564.97 -364.82 L565.96 -366.08 L566.96 -367.25 L567.95 -368.32 L568.94 -369.30 L569.94 -370.18 L570.93 -370.97 L571.93 -371.68 L572.92 -372.31 L573.92 -372.85 L574.91 -373.31 L575.91 -373.70 L576.90 -374.01 L577.90 -374.25 L578.89 -374.42 L579.88 -374.52 L580.88 -374.55 L581.87 -374.53 L582.87 -374.44 L583.86 -374.29 L584.86 -374.08 L585.85 -373.82 L586.85 -373.50 L587.84 -373.13 L588.84 -372.72 L589.83 -372.25 L590.82 -371.74 L591.82 -371.18 L592.81 -370.58 L593.81 -369.93 L594.80 -369.25 L595.80 -368.52 L596.79 -367.76 L597.79 -366.97 L598.78 -366.13 L599.77 -365.27 L600.77 -364.37 L601.76 -363.44 L602.76 -362.48 L603.75 -361.50 L604.75 -360.48 L605.74 -359.44 L606.74 -358.38 L607.73 -357.29 L608.73 -356.18 L609.72 -355.04 L610.71 -353.88 L611.71 -352.71 L612.70 -351.51 L613.70 -350.30 L614.69 -349.06 L615.69 -347.81 L616.68 -346.55 L617.68 -345.27 L618.67 -343.97 L619.66 -342.66 L620.66 -341.34 L621.65 -340.00 L622.65 -338.66 L623.64 -337.30 L624.64 -335.93 L625.63 -334.55 L626.63 -333.16 L627.62 -331.76 L628.62 -330.36 L629.61 -328.94 L630.60 -327.52 L631.60 -326.09 L632.59 -324.66 L633.59 -323.22 L634.58 -321.77 L635.58 -320.32 L636.57 -318.87 L637.57 -317.40 L638.56 -315.94 L639.55 -314.47 L640.55 -313.00 L641.54 -311.53 L642.54 -310.05 L643.53 -308.57 L644.53 -307.09 L645.52 -305.61 L646.52 -304.12 L647.51 -302.64 L648.50 -301.15 L649.50 -299.66 L650.49 -298.18 L651.49 -296.69 L652.48 -295.20 L653.48 -293.72 L654.47 -292.23 L655.47 -290.74 L656.46 -289.26 L657.46 -287.78 L658.45 -286.30 L659.44 -284.82 L660.44 -283.34 L661.43 -281.86 L662.43 -280.39 L663.42 -278.91 L664.42 -277.44 L665.41 -275.98 L666.41 -274.51 L667.40 -273.05 L668.39 -271.59 L669.39 -270.13 L670.38 -268.68 L671.38 -267.23 L672.37 -265.78 L673.37 -264.34 L674.36 -262.90 L675.36 -261.46 L676.35 -260.03 L677.35 -258.60 L678.34 -257.17 L679.33 -255.75 L680.33 -254.33 L681.32 -252.92 L682.32 -251.51 L683.31 -250.10 L684.31 -248.70 L685.30 -247.31 L686.30 -245.91" stroke="#CD0BBC" stroke-dasharray="1.74 5.23 8.71 5.23"/>
</g>
<g stroke="#000" stroke-width="0.9" fill="none" stroke-linecap="round">
<rect x="389.0" y="0.5" width="295.5" height="261.0"/>
<path d="M399.88 261.5 H648.50"/>
<path d="M399.88 261.5 v6.1"/>
<path d="M449.61 261.5 v6.1"/>
<path d="M499.33 261.5 v6.1"/>
<path d="M549.06 261.5 v6.1"/>
<path d="M598.78 261.5 v6.1"/>
<path d="M648.50 261.5 v6.1"/>
<path d="M389.0 251.83 V10.06"/>
<path d="M389.0 251.83 h-6.1"/>
<path d="M389.0 211.54 h-6.1"/>
<path d="M389.0 171.24 h-6.1"/>
<path d="M389.0 130.94 h-6.1"/>
<path d="M389.0 90.65 h-6.1"/>
<path d="M389.0 50.35 h-6.1"/>
<path d="M389.0 10.06 h-6.1"/>
</g>
<g font-size="9.7" text-anchor="middle">
<text x="399.88" y="282.0">0.0</text>
<text x="449.61" y="282.0">0.5</text>
<text x="499.33" y="282.0">1.0</text>
<text x="549.06" y="282.0">1.5</text>
<text x="598.78" y="282.0">2.0</text>
<text x="648.50" y="282.0">2.5</text>
<text transform="translate(375.50 251.83) rotate(-90)">0.0</text>
<text transform="translate(375.50 211.54) rotate(-90)">0.5</text>
<text transform="translate(375.50 171.24) rotate(-90)">1.0</text>
<text transform="translate(375.50 130.94) rotate(-90)">1.5</text>
<text transform="translate(375.50 90.65) rotate(-90)">2.0</text>
<text transform="translate(375.50 50.35) rotate(-90)">2.5</text>
<text transform="translate(375.50 10.06) rotate(-90)">3.0</text>
<text x="536.75" y="303.6">x</text>
<text transform="translate(353.10 131.00) rotate(-90)">h(x)</text>
</g>
<g class="lg" font-size="9.35">
<line x1="70.80" y1="21.10" x2="87.30" y2="21.10" stroke="#61D04F" stroke-width="1.742" stroke-linecap="round" stroke-dasharray="0.01 6.97 5.23 6.97"/>
<text transform="translate(95.95 24.20) scale(1.13 1)">α</text>
<text class="e" x="106.69" y="24.55" text-anchor="middle" font-size="10.2">=</text>
<text x="111.32" y="24.20">4</text>
<text transform="translate(121.58 24.20) scale(0.9 1)">β</text>
<text class="e" x="130.62" y="24.55" text-anchor="middle" font-size="10.2">=</text>
<text x="135.75" y="24.20">1.75</text>
<text x="158.62" y="24.20">a</text>
<text class="e" x="168.32" y="24.55" text-anchor="middle" font-size="10.2">=</text>
<text x="172.95" y="24.20">0.25</text>
<text x="195.82" y="24.20">b</text>
<text class="e" x="205.52" y="24.55" text-anchor="middle" font-size="10.2">=</text>
<text x="210.15" y="24.20">1.5</text>
<line x1="70.80" y1="32.24" x2="87.30" y2="32.24" stroke="#2297E6" stroke-width="1.742" stroke-linecap="round" stroke-dasharray="5.23 8.71"/>
<text transform="translate(95.95 35.34) scale(1.13 1)">α</text>
<text class="e" x="106.69" y="35.69" text-anchor="middle" font-size="10.2">=</text>
<text x="111.32" y="35.34">3.5</text>
<text transform="translate(129.20 35.34) scale(0.9 1)">β</text>
<text class="e" x="138.25" y="35.69" text-anchor="middle" font-size="10.2">=</text>
<text x="143.37" y="35.34">12</text>
<text x="158.62" y="35.34">a</text>
<text class="e" x="168.32" y="35.69" text-anchor="middle" font-size="10.2">=</text>
<text x="172.95" y="35.34">0.01</text>
<text x="195.82" y="35.34">b</text>
<text class="e" x="205.52" y="35.69" text-anchor="middle" font-size="10.2">=</text>
<text x="210.15" y="35.34">1</text>
<line x1="70.80" y1="43.38" x2="87.30" y2="43.38" stroke="#F5C710" stroke-width="1.742" stroke-linecap="round" stroke-dasharray="0.01 6.97"/>
<text transform="translate(95.95 46.48) scale(1.13 1)">α</text>
<text class="e" x="106.69" y="46.83" text-anchor="middle" font-size="10.2">=</text>
<text x="111.32" y="46.48">0.05</text>
<text transform="translate(134.29 46.48) scale(0.9 1)">β</text>
<text class="e" x="143.33" y="46.83" text-anchor="middle" font-size="10.2">=</text>
<text x="148.45" y="46.48">4</text>
<text x="158.62" y="46.48">a</text>
<text class="e" x="168.32" y="46.83" text-anchor="middle" font-size="10.2">=</text>
<text x="172.95" y="46.48">0.5</text>
<text x="190.73" y="46.48">b</text>
<text class="e" x="200.44" y="46.83" text-anchor="middle" font-size="10.2">=</text>
<text x="205.07" y="46.48">0.5</text>
<line x1="70.80" y1="54.52" x2="87.30" y2="54.52" stroke="#9E9E9E" stroke-width="1.742" stroke-linecap="round" stroke-dasharray="10.45 6.97"/>
<text transform="translate(95.95 57.62) scale(1.13 1)">α</text>
<text class="e" x="106.69" y="57.97" text-anchor="middle" font-size="10.2">=</text>
<text x="111.32" y="57.62">0.05</text>
<text transform="translate(134.29 57.62) scale(0.9 1)">β</text>
<text class="e" x="143.33" y="57.97" text-anchor="middle" font-size="10.2">=</text>
<text x="148.45" y="57.62">7</text>
<text x="158.62" y="57.62">a</text>
<text class="e" x="168.32" y="57.97" text-anchor="middle" font-size="10.2">=</text>
<text x="172.95" y="57.62">0.05</text>
<text x="195.82" y="57.62">b</text>
<text class="e" x="205.52" y="57.97" text-anchor="middle" font-size="10.2">=</text>
<text x="210.15" y="57.62">0.5</text>
<line x1="70.80" y1="65.66" x2="87.30" y2="65.66" stroke="#000000" stroke-width="1.742" stroke-linecap="round" stroke-dasharray="1.74 5.23 8.71 5.23"/>
<text transform="translate(95.95 68.76) scale(1.13 1)">α</text>
<text class="e" x="106.69" y="69.11" text-anchor="middle" font-size="10.2">=</text>
<text x="111.32" y="68.76">9</text>
<text transform="translate(121.58 68.76) scale(0.9 1)">β</text>
<text class="e" x="130.62" y="69.11" text-anchor="middle" font-size="10.2">=</text>
<text x="135.75" y="68.76">5</text>
<text x="145.91" y="68.76">a</text>
<text class="e" x="155.62" y="69.11" text-anchor="middle" font-size="10.2">=</text>
<text x="160.24" y="68.76">2</text>
<text x="170.41" y="68.76">b</text>
<text class="e" x="180.11" y="69.11" text-anchor="middle" font-size="10.2">=</text>
<text x="184.74" y="68.76">7</text>
<line x1="517.80" y1="21.30" x2="533.70" y2="21.30" stroke="#000000" stroke-width="1.742" stroke-linecap="round" stroke-dasharray="0.01 6.97 5.23 6.97"/>
<text transform="translate(542.45 24.40) scale(1.13 1)">α</text>
<text class="e" x="553.19" y="24.75" text-anchor="middle" font-size="10.2">=</text>
<text x="557.82" y="24.40">5.5</text>
<text transform="translate(575.70 24.40) scale(0.9 1)">β</text>
<text class="e" x="584.75" y="24.75" text-anchor="middle" font-size="10.2">=</text>
<text x="589.87" y="24.40">9</text>
<text x="600.03" y="24.40">a</text>
<text class="e" x="609.74" y="24.75" text-anchor="middle" font-size="10.2">=</text>
<text x="614.37" y="24.40">0.04</text>
<text x="637.23" y="24.40">b</text>
<text class="e" x="646.94" y="24.75" text-anchor="middle" font-size="10.2">=</text>
<text x="651.57" y="24.40">1</text>
<line x1="517.80" y1="32.42" x2="533.70" y2="32.42" stroke="#DF536B" stroke-width="1.742" stroke-linecap="round" stroke-dasharray="5.23 8.71"/>
<text transform="translate(542.45 35.52) scale(1.13 1)">α</text>
<text class="e" x="553.19" y="35.87" text-anchor="middle" font-size="10.2">=</text>
<text x="557.82" y="35.52">0.5</text>
<text transform="translate(575.70 35.52) scale(0.9 1)">β</text>
<text class="e" x="584.75" y="35.87" text-anchor="middle" font-size="10.2">=</text>
<text x="589.87" y="35.52">5</text>
<text x="600.03" y="35.52">a</text>
<text class="e" x="609.74" y="35.87" text-anchor="middle" font-size="10.2">=</text>
<text x="614.37" y="35.52">2</text>
<text x="624.53" y="35.52">b</text>
<text class="e" x="634.24" y="35.87" text-anchor="middle" font-size="10.2">=</text>
<text x="638.86" y="35.52">0.5</text>
<line x1="517.80" y1="43.54" x2="533.70" y2="43.54" stroke="#61D04F" stroke-width="1.742" stroke-linecap="round" stroke-dasharray="0.01 6.97"/>
<text transform="translate(542.45 46.64) scale(1.13 1)">α</text>
<text class="e" x="553.19" y="46.99" text-anchor="middle" font-size="10.2">=</text>
<text x="557.82" y="46.64">3.5</text>
<text transform="translate(575.70 46.64) scale(0.9 1)">β</text>
<text class="e" x="584.75" y="46.99" text-anchor="middle" font-size="10.2">=</text>
<text x="589.87" y="46.64">0.5</text>
<text x="607.66" y="46.64">a</text>
<text class="e" x="617.36" y="46.99" text-anchor="middle" font-size="10.2">=</text>
<text x="621.99" y="46.64">1.5</text>
<text x="639.78" y="46.64">b</text>
<text class="e" x="649.48" y="46.99" text-anchor="middle" font-size="10.2">=</text>
<text x="654.11" y="46.64">4</text>
<line x1="517.80" y1="54.66" x2="533.70" y2="54.66" stroke="#2297E6" stroke-width="1.742" stroke-linecap="round"/>
<text transform="translate(542.45 57.76) scale(1.13 1)">α</text>
<text class="e" x="553.19" y="58.11" text-anchor="middle" font-size="10.2">=</text>
<text x="557.82" y="57.76">1.5</text>
<text transform="translate(575.70 57.76) scale(0.9 1)">β</text>
<text class="e" x="584.75" y="58.11" text-anchor="middle" font-size="10.2">=</text>
<text x="589.87" y="57.76">0.95</text>
<text x="612.74" y="57.76">a</text>
<text class="e" x="622.45" y="58.11" text-anchor="middle" font-size="10.2">=</text>
<text x="627.07" y="57.76">0.22</text>
<text x="649.94" y="57.76">b</text>
<text class="e" x="659.65" y="58.11" text-anchor="middle" font-size="10.2">=</text>
<text x="664.27" y="57.76">0.5</text>
<line x1="517.80" y1="65.78" x2="533.70" y2="65.78" stroke="#28E2E5" stroke-width="1.742" stroke-linecap="round" stroke-dasharray="10.45 6.97"/>
<text transform="translate(542.45 68.88) scale(1.13 1)">α</text>
<text class="e" x="553.19" y="69.23" text-anchor="middle" font-size="10.2">=</text>
<text x="557.82" y="68.88">5.5</text>
<text transform="translate(575.70 68.88) scale(0.9 1)">β</text>
<text class="e" x="584.75" y="69.23" text-anchor="middle" font-size="10.2">=</text>
<text x="589.87" y="68.88">8</text>
<text x="600.03" y="68.88">a</text>
<text class="e" x="609.74" y="69.23" text-anchor="middle" font-size="10.2">=</text>
<text x="614.37" y="68.88">0.04</text>
<text x="637.23" y="68.88">b</text>
<text class="e" x="646.94" y="69.23" text-anchor="middle" font-size="10.2">=</text>
<text x="651.57" y="68.88">0.25</text>
<line x1="517.80" y1="76.90" x2="533.70" y2="76.90" stroke="#CD0BBC" stroke-width="1.742" stroke-linecap="round" stroke-dasharray="1.74 5.23 8.71 5.23"/>
<text transform="translate(542.45 80.00) scale(1.13 1)">α</text>
<text class="e" x="553.19" y="80.35" text-anchor="middle" font-size="10.2">=</text>
<text x="557.82" y="80.00">5</text>
<text transform="translate(568.08 80.00) scale(0.9 1)">β</text>
<text class="e" x="577.12" y="80.35" text-anchor="middle" font-size="10.2">=</text>
<text x="582.25" y="80.00">3.75</text>
<text x="605.12" y="80.00">a</text>
<text class="e" x="614.82" y="80.35" text-anchor="middle" font-size="10.2">=</text>
<text x="619.45" y="80.00">2</text>
<text x="629.61" y="80.00">b</text>
<text class="e" x="639.32" y="80.35" text-anchor="middle" font-size="10.2">=</text>
<text x="643.94" y="80.00">5</text>
</g>
</svg></body></html>
